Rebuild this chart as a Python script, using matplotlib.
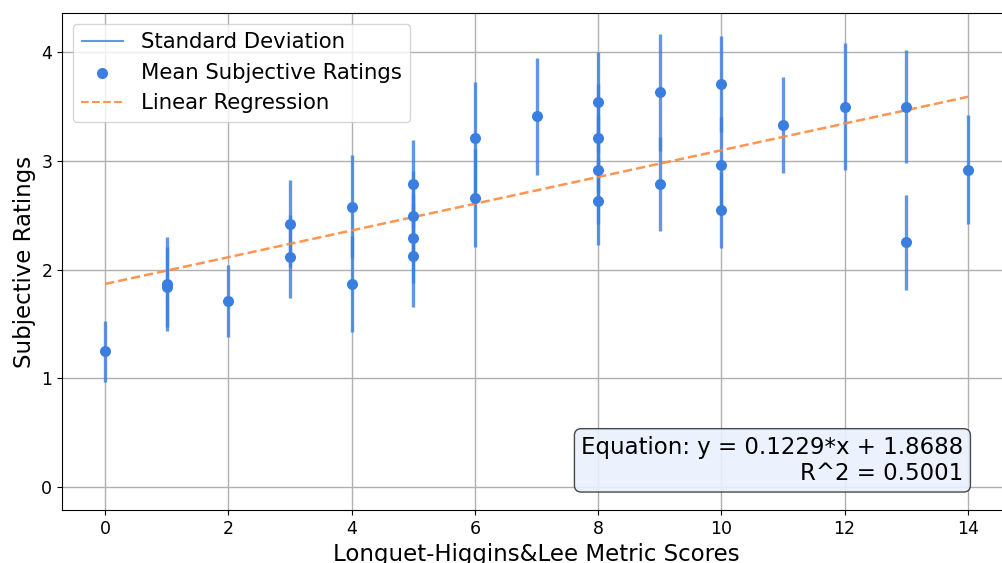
import matplotlib
matplotlib.use("Agg")
import matplotlib.pyplot as plt
import numpy as np

# metric scores, mean ratings and their standard deviations
scores = [0, 1, 1, 2, 3, 3, 4, 4, 5, 5, 5, 5, 6, 6, 7, 8, 8, 8, 8,
          9, 9, 10, 10, 10, 11, 12, 13, 13, 14]
means = [1.25, 1.87, 1.84, 1.71, 2.42, 2.12, 2.58, 1.87, 2.79, 2.49, 2.29, 2.13,
         3.21, 2.66, 3.41, 3.54, 3.21, 2.92, 2.63,
         3.63, 2.79, 3.71, 2.96, 2.55, 3.33, 3.50, 3.50, 2.25, 2.92]
stds = [0.28, 0.43, 0.37, 0.33, 0.40, 0.38, 0.47, 0.44, 0.40, 0.42, 0.41, 0.47,
        0.52, 0.45, 0.54, 0.46, 0.50, 0.50, 0.40,
        0.54, 0.43, 0.44, 0.44, 0.35, 0.44, 0.58, 0.52, 0.44, 0.50]

slope = 0.1229
intercept = 1.8688
r2 = 0.5001

blue = '#3a7ee0'
orange = '#ff8a3d'

m = np.array(means)
s = np.array(stds)

fig = plt.figure(figsize=(10.03, 5.63), dpi=100)
ax = fig.add_axes([62/1003, 53/563, 949/1003, 497/563])

ax.vlines(scores, m - s, m + s, color=blue, lw=2.4, alpha=0.8,
          label='Standard Deviation')
ax.scatter(scores, means, color=blue, s=48, zorder=3, label='Mean Subjective Ratings')

xs = np.array([min(scores), max(scores)])
ax.plot(xs, slope * xs + intercept, '--', color=orange, lw=1.8, alpha=0.9,
        label='Linear Regression')

ax.set_xlim(-0.7, 14.7)
ax.set_ylim(-0.21, 4.36)
ax.set_xticks(range(0, 15, 2))
ax.set_yticks(range(0, 5))
ax.tick_params(labelsize=12.5)
ax.grid(True, color='#b0b0b0', lw=1)
ax.set_axisbelow(True)

ax.set_xlabel('Longuet-Higgins&Lee Metric Scores', fontsize=16.5)
ax.set_ylabel('Subjective Ratings', fontsize=16.5)

leg = ax.legend(loc='upper left', fontsize=15.3, handlelength=2, borderaxespad=0.5)
leg.legend_handles[0].set_linewidth(1.5)
leg.legend_handles[2].set_linewidth(1.5)

ax.text(0.95, 0.05, 'Equation: y = %.4f*x + %.4f\nR^2 = %.4f' % (slope, intercept, r2),
        transform=ax.transAxes, ha='right', va='bottom', multialignment='right',
        fontsize=16.5,
        bbox=dict(boxstyle='round', facecolor='#eaf1fd', edgecolor='#333333', alpha=0.9))

fig.savefig('out.png', dpi=100)
